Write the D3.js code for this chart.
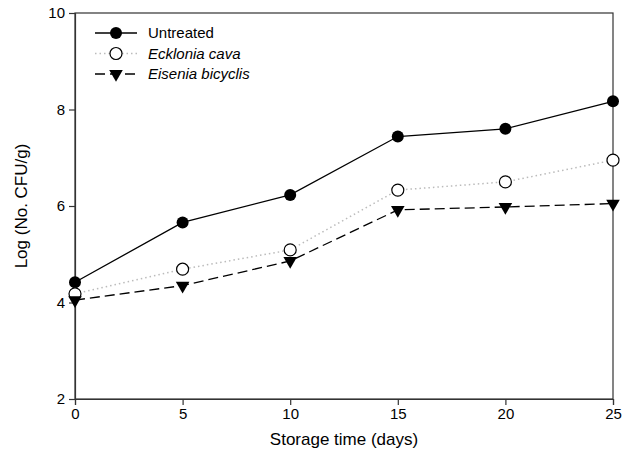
<!DOCTYPE html>
<html>
<head>
<meta charset="utf-8">
<script src="https://cdn.jsdelivr.net/npm/d3@7"></script>
<style>
  body { margin: 0; background: #fff; }
  text { font-family: "Liberation Sans", Arial, sans-serif; fill: #000; }
</style>
</head>
<body>
<div id="chart"></div>
<script>
// data
const days = [0, 5, 10, 15, 20, 25];
const untreated = [4.42, 5.66, 6.23, 7.44, 7.60, 8.17];
const ecklonia = [4.18, 4.69, 5.09, 6.33, 6.50, 6.95];
const eisenia = [4.05, 4.35, 4.86, 5.92, 5.98, 6.05];
const xTicks = [0, 5, 10, 15, 20, 25];
const yTicks = [2, 4, 6, 8, 10];

const W = 629, H = 451;
const margin = { top: 13, right: 16, bottom: 52, left: 75 };
const width = W - margin.left - margin.right;
const height = H - margin.top - margin.bottom;

const svg = d3.select("#chart").append("svg")
    .attr("width", W)
    .attr("height", H);

const g = svg.append("g")
    .attr("transform", `translate(${margin.left},${margin.top})`);

const x = d3.scaleLinear().domain([0, 25]).range([0, width]);
const y = d3.scaleLinear().domain([2, 10]).range([height, 0]);

// frame (top + right)
g.append("rect")
    .attr("width", width)
    .attr("height", height)
    .attr("fill", "none")
    .attr("stroke", "#333")
    .attr("stroke-width", 1.2);

const xAxisG = g.append("g")
    .attr("transform", `translate(0,${height})`)
    .call(d3.axisBottom(x).tickValues(xTicks).tickSize(6).tickPadding(3));
const yAxisG = g.append("g")
    .call(d3.axisLeft(y).tickValues(yTicks).tickSize(6).tickPadding(4));

[xAxisG, yAxisG].forEach(a => {
    a.selectAll("path, line").attr("stroke", "#333").attr("stroke-width", 1.2);
    a.selectAll("text").attr("font-size", 15).attr("font-family", "Liberation Sans, Arial, sans-serif").attr("fill", "#000");
});

// axis titles
svg.append("text")
    .attr("x", margin.left + width / 2)
    .attr("y", 445)
    .attr("text-anchor", "middle")
    .attr("font-size", 17)
    .text("Storage time (days)");

svg.append("text")
    .attr("transform", `translate(27,${margin.top + height / 2}) rotate(-90)`)
    .attr("text-anchor", "middle")
    .attr("font-size", 17)
    .text("Log (No. CFU/g)");

const series = [
    { name: "Untreated", italic: false, values: untreated, stroke: "#000", dash: null, width: 1.3, marker: "filled" },
    { name: "Ecklonia cava", italic: true, values: ecklonia, stroke: "#bbb", dash: "1.5,3", width: 1.5, marker: "open" },
    { name: "Eisenia bicyclis", italic: true, values: eisenia, stroke: "#000", dash: "10,5", width: 1.3, marker: "tri" }
];

const line = d3.line()
    .x((d, i) => x(days[i]))
    .y(d => y(d));

const tri = d3.symbol().type(d3.symbolTriangle).size(80);

function drawMarker(sel, s, cx, cy) {
    if (s.marker === "filled") {
        sel.append("circle").attr("cx", cx).attr("cy", cy).attr("r", 6).attr("fill", "#000");
    } else if (s.marker === "open") {
        sel.append("circle").attr("cx", cx).attr("cy", cy).attr("r", 6)
            .attr("fill", "#fff").attr("stroke", "#000").attr("stroke-width", 1.2);
    } else {
        sel.append("path").attr("d", tri)
            .attr("transform", `translate(${cx},${cy}) rotate(180)`)
            .attr("fill", "#000");
    }
}

// draw lines first, then markers on top
series.forEach(s => {
    g.append("path")
        .datum(s.values)
        .attr("d", line)
        .attr("fill", "none")
        .attr("stroke", s.stroke)
        .attr("stroke-width", s.width)
        .attr("stroke-dasharray", s.dash);
});
series.forEach(s => {
    const mg = g.append("g");
    s.values.forEach((v, i) => drawMarker(mg, s, x(days[i]), y(v)));
});

// legend
const legend = svg.append("g");
series.forEach((s, i) => {
    const ly = 33 + i * 20.5;
    legend.append("line")
        .attr("x1", 95).attr("x2", 137)
        .attr("y1", ly).attr("y2", ly)
        .attr("stroke", s.stroke)
        .attr("stroke-width", s.width)
        .attr("stroke-dasharray", s.dash);
    drawMarker(legend, s, 116, ly);
    legend.append("text")
        .attr("x", 148)
        .attr("y", ly + 5)
        .attr("font-size", 15)
        .attr("font-style", s.italic ? "italic" : null)
        .text(s.name);
});
</script>
</body>
</html>
